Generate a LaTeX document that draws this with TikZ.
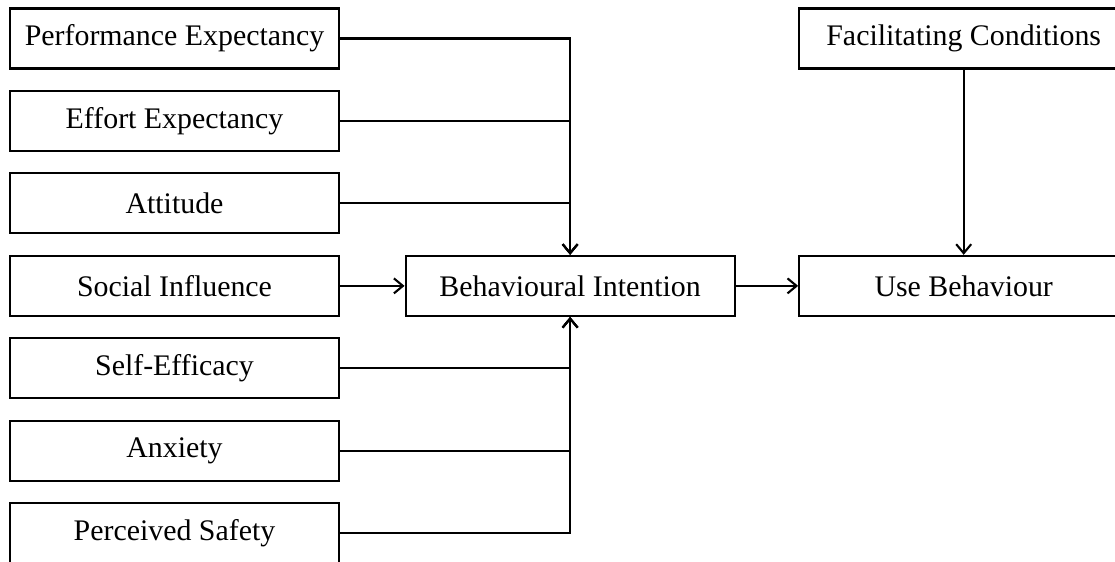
\documentclass[tikz,border=0pt]{standalone}
\usepackage{fontspec}
\setmainfont{Liberation Serif}
\usetikzlibrary{positioning,arrows.meta}

\begin{document}
\begin{tikzpicture} [ node distance=0.407cm,>={Straight Barb[length=1.8mm,width=3mm]},
    box/.style={rectangle, draw, line width=1.2pt, minimum width=6.58cm,
    minimum height=1.2cm, inner sep=0pt, font=\fontsize{17}{20}\selectfont},
    con/.style={->,line width=1.2pt}
    ]
    \clip (0,0) rectangle (22.3,-11.22);
    \node (pe) [box] at (3.49,-0.77) {Performance Expectancy};
    \node (ee) [box, below=of pe] {Effort Expectancy};
    \node (att) [box, below=of ee] {Attitude};
    \node (si) [box, below=of att] {Social Influence};
    \node (se) [box, below=of si] {Self-Efficacy};
    \node (anx) [box, below=of se] {Anxiety};
    \node (ps) [box, below=of anx] {Perceived Safety};
    \node (bi) [box, right=1.29cm of si] {Behavioural Intention};
    \node (ub) [box, right=1.25cm of bi] {Use Behaviour};
    \node (fc) [box] at (pe -| ub) {Facilitating Conditions};

    \foreach \n in {pe,ee,att,se,anx,ps}
      \draw [con] (\n) -| (bi);
    \draw [con] (si) -- (bi);
    \draw [con] (bi) -- (ub);
    \draw [con] (fc) -- (ub);
\end{tikzpicture}
\end{document}
